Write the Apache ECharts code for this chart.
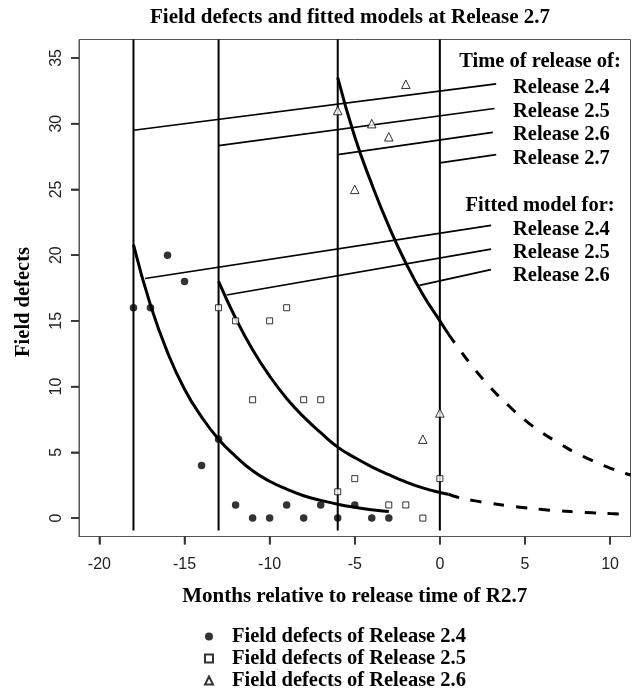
<!DOCTYPE html>
<html>
<head>
<meta charset="utf-8">
<script src="https://cdn.jsdelivr.net/npm/echarts@6/dist/echarts.min.js"></script>
<style>html,body{margin:0;padding:0;background:#fff}#chart{width:635px;height:691px}</style>
</head>
<body>
<div id="chart"></div>
<script>
// ---- tick labels ----
const xTicks = [-20, -15, -10, -5, 0, 5, 10];
const yTicks = [0, 5, 10, 15, 20, 25, 30, 35];

// ---- observed field defects ----
const r24Months  = [-18, -17, -16, -15, -14, -13, -12, -11, -10, -9, -8, -7, -6, -5, -4, -3];
const r24Defects = [16, 16, 20, 18, 4, 6, 1, 0, 0, 1, 0, 1, 0, 1, 0, 0];

const r25Months  = [-13, -12, -11, -10, -9, -8, -7, -6, -5, -3, -2, -1, 0];
const r25Defects = [16, 15, 9, 15, 16, 9, 9, 2, 3, 1, 1, 0, 3];

const r26Months  = [-6, -5, -4, -3, -2, -1, 0];
const r26Defects = [31, 25, 30, 29, 33, 6, 8];

// ---- fitted models ----
const fit24Months = [-18, -17, -16, -15, -14, -13, -12, -11, -10, -9, -8, -7, -6, -5, -4, -3];
const fit24Values = [20.8, 16.2, 12.6, 9.8, 7.7, 6.0, 4.7, 3.6, 2.8, 2.2, 1.7, 1.35, 1.05, 0.82, 0.64, 0.5];

const fit25SolidMonths = [-13, -12, -11, -10, -9, -8, -7, -6, -5, -4, -3, -2, -1, 0, 0.5];
const fit25SolidValues = [18.0, 15.2, 12.8, 10.8, 9.1, 7.7, 6.5, 5.4, 4.6, 3.9, 3.3, 2.75, 2.3, 1.95, 1.82];
const fit25DashMonths  = [0.5, 1, 2, 3, 4, 5, 6, 7, 8, 9, 10, 11, 11.2];
const fit25DashValues  = [1.82, 1.6, 1.33, 1.12, 0.94, 0.78, 0.66, 0.55, 0.47, 0.4, 0.34, 0.29, 0.28];

const fit26SolidMonths = [-6, -5, -4, -3, -2, -1, 0, 0.5];
const fit26SolidValues = [33.5, 29.0, 25.4, 22.2, 19.4, 17.0, 15.0, 14.0];
const fit26DashMonths  = [0.5, 1, 2, 3, 4, 5, 6, 7, 8, 9, 10, 11, 11.2];
const fit26DashValues  = [14.0, 13.1, 11.4, 9.9, 8.6, 7.45, 6.5, 5.7, 4.95, 4.35, 3.8, 3.35, 3.28];

// ---- release times (vertical lines) ----
const releaseMonths = [-18, -13, -6, 0];
const releaseLineFrom = -0.95;
const releaseLineTo = 36.4;

// ---- annotation pointer lines [month, defects] ----
const timePointerStart = [[-18, 29.5], [-13, 28.33], [-6, 27.64], [0, 27.01]];
const timePointerEnd   = [[3.31, 33.03], [3.21, 31.15], [3.11, 29.34], [3.31, 27.64]];
const fitPointerStart  = [[-17.32, 18.22], [-12.53, 16.97], [-1.2, 17.7]];
const fitPointerEnd    = [[3.01, 22.26], [3.01, 20.46], [3.0, 18.9]];

const timeLabels = ['Release 2.4', 'Release 2.5', 'Release 2.6', 'Release 2.7'];
const fitLabels  = ['Release 2.4', 'Release 2.5', 'Release 2.6'];
const legendNames = ['Field defects of Release 2.4', 'Field defects of Release 2.5', 'Field defects of Release 2.6'];

const X_MIN = -21.2, X_MAX = 11.2, Y_MIN = -1.4, Y_MAX = 36.4;

const zip = (a, b) => a.map((v, i) => [v, b[i]]);
const SERIF = '"Liberation Serif", "Times New Roman", serif';
const SANS = '"Liberation Sans", Arial, sans-serif';

const series = [];

releaseMonths.forEach(m => {
  series.push({
    type: 'line', data: [[m, releaseLineFrom], [m, releaseLineTo]],
    symbol: 'none', silent: true, z: 2,
    lineStyle: { color: '#000', width: 2 }
  });
});

timePointerStart.forEach((p, i) => {
  series.push({
    type: 'line', data: [p, timePointerEnd[i]], symbol: 'none', silent: true, z: 2,
    lineStyle: { color: '#000', width: 1.7 }
  });
});
fitPointerStart.forEach((p, i) => {
  series.push({
    type: 'line', data: [p, fitPointerEnd[i]], symbol: 'none', silent: true, z: 2,
    lineStyle: { color: '#000', width: 1.7 }
  });
});

const curve = (xs, ys, dashed) => ({
  type: 'line', data: zip(xs, ys), symbol: 'none', smooth: 0.5, silent: true, z: 3,
  lineStyle: { color: '#000', width: 3, type: dashed ? [11, 12] : 'solid', cap: 'butt' }
});
series.push(curve(fit24Months, fit24Values, false));
series.push(curve(fit25SolidMonths, fit25SolidValues, false));
series.push(curve(fit25DashMonths, fit25DashValues, true));
series.push(curve(fit26SolidMonths, fit26SolidValues, false));
series.push(curve(fit26DashMonths, fit26DashValues, true));

series.push({
  name: legendNames[0], type: 'scatter', data: zip(r24Months, r24Defects),
  symbol: 'circle', symbolSize: 7.5, z: 5,
  itemStyle: { color: '#000', borderColor: '#000', borderWidth: 0 }
});
series.push({
  name: legendNames[1], type: 'scatter', data: zip(r25Months, r25Defects),
  symbol: 'rect', symbolSize: 6, z: 5,
  itemStyle: { color: '#fff', borderColor: '#000', borderWidth: 1 }
});
series.push({
  name: legendNames[2], type: 'scatter', data: zip(r26Months, r26Defects),
  symbol: 'triangle', symbolSize: 8.5, z: 5,
  itemStyle: { color: '#fff', borderColor: '#000', borderWidth: 1 }
});

const textFont = 'bold 20.5px ' + SERIF;
const graphics = [];
graphics.push({ type: 'text', style: { text: 'Time of release of:', x: 540, y: 62, textAlign: 'center', textVerticalAlign: 'middle', font: textFont, fill: '#000' } });
const timeY = [88, 111.5, 135, 158.5];
timeLabels.forEach((t, i) => graphics.push({ type: 'text', style: { text: t, x: 513, y: timeY[i], textAlign: 'left', textVerticalAlign: 'middle', font: textFont, fill: '#000' } }));
graphics.push({ type: 'text', style: { text: 'Fitted model for:', x: 540, y: 206, textAlign: 'center', textVerticalAlign: 'middle', font: textFont, fill: '#000' } });
const fitY = [229.5, 252.5, 276];
fitLabels.forEach((t, i) => graphics.push({ type: 'text', style: { text: t, x: 513, y: fitY[i], textAlign: 'left', textVerticalAlign: 'middle', font: textFont, fill: '#000' } }));

const TICK_STYLE = { color: '#333', width: 1.6 };

const chart = echarts.init(document.getElementById('chart'), null, { renderer: 'canvas' });
chart.setOption({
  animation: false,
  backgroundColor: '#fff',
  title: {
    text: 'Field defects and fitted models at Release 2.7',
    left: 150, top: 7, padding: 0,
    textStyle: { fontFamily: SERIF, fontWeight: 'bold', fontSize: 21, color: '#000' }
  },
  grid: { left: 79, right: 4.5, top: 39.5, bottom: 154.5, show: true, borderColor: '#555', borderWidth: 1 },
  xAxis: {
    type: 'value', min: X_MIN, max: X_MAX,
    name: 'Months relative to release time of R2.7', nameLocation: 'middle', nameGap: 50,
    nameTextStyle: { fontFamily: SERIF, fontWeight: 'bold', fontSize: 21, color: '#000' },
    axisLine: { show: true, onZero: false, lineStyle: { color: '#555', width: 1 } },
    splitLine: { show: false },
    axisTick: { show: true, length: 8, interval: 0, customValues: xTicks, lineStyle: TICK_STYLE },
    axisLabel: { customValues: xTicks, margin: 20, fontFamily: SANS, fontSize: 16, color: '#222' }
  },
  yAxis: {
    type: 'value', min: Y_MIN, max: Y_MAX,
    name: 'Field defects', nameLocation: 'middle', nameGap: 45, nameRotate: 90,
    nameTextStyle: { fontFamily: SERIF, fontWeight: 'bold', fontSize: 20.5, color: '#000', padding: [0, 28, 0, 0] },
    axisLine: { show: true, onZero: false, lineStyle: { color: '#555', width: 1 } },
    splitLine: { show: false },
    axisTick: { show: true, length: 8, interval: 0, customValues: yTicks, lineStyle: TICK_STYLE },
    axisLabel: { customValues: yTicks, rotate: 90, margin: 14, fontFamily: SANS, fontSize: 16, color: '#222' }
  },
  legend: {
    data: legendNames, orient: 'vertical', left: 204, top: 625.5, height: 70, itemGap: 0, padding: 0,
    itemWidth: 8, itemHeight: 8, selectedMode: false,
    textStyle: { fontFamily: SERIF, fontWeight: 'bold', fontSize: 20.5, color: '#000', lineHeight: 22, padding: [0, 0, 0, 14] }
  },
  graphic: graphics,
  series: series
});

// tick marks placed through the chart's own axis scales, drawn on top
const TICK_LEN = 8;
const tickMarks = [];
xTicks.forEach(v => {
  const p = chart.convertToPixel({ gridIndex: 0 }, [v, Y_MIN]);
  if (p && isFinite(p[0])) tickMarks.push({ type: 'line', z: 100, silent: true, shape: { x1: p[0], y1: p[1], x2: p[0], y2: p[1] + TICK_LEN }, style: { stroke: '#333', lineWidth: 1.6 } });
});
yTicks.forEach(v => {
  const p = chart.convertToPixel({ gridIndex: 0 }, [X_MIN, v]);
  if (p && isFinite(p[1])) tickMarks.push({ type: 'line', z: 100, silent: true, shape: { x1: p[0] - TICK_LEN, y1: p[1], x2: p[0], y2: p[1] }, style: { stroke: '#333', lineWidth: 1.6 } });
});
chart.setOption({ graphic: graphics.concat(tickMarks) });
</script>
</body>
</html>
